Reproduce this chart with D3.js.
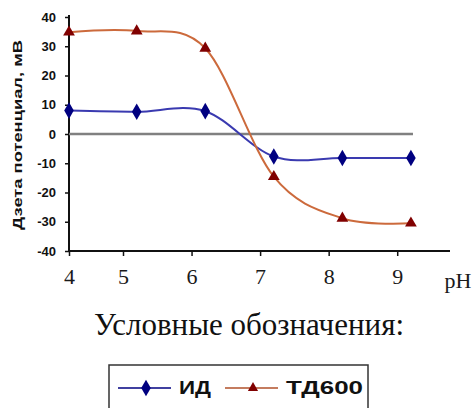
<!DOCTYPE html>
<html>
<head>
<meta charset="utf-8">
<script src="https://cdn.jsdelivr.net/npm/d3@7"></script>
<style>
	body { margin: 0; background: #fff; }
	svg { display: block; }
	.ytick text { font-family: Arial, "Liberation Sans", sans-serif; font-weight: bold; }
	.xtick text { font-family: "Times New Roman", "Liberation Serif", serif; }
</style>
</head>
<body>
<div id="graphique"></div>
<script>
"use strict";

// données
var phValeurs = [4, 5.2, 6.2, 7.2, 8.2, 9.2];
var serieID = [8, 7.6, 7.8, -7.7, -8.2, -8.2];
var serieTD600 = [34.8, 35.2, 29.3, -14.6, -28.8, -30.5];
var series = ["ИД", "ТД600"];
var ticksY = [40, 30, 20, 10, 0, -10, -20, -30, -40];
var ticksX = [4, 5, 6, 7, 8, 9];
var ligneZero = [4, 9.23];

var largeur = 474, hauteur = 408;

var svg = d3.select("#graphique").append("svg")
	.attr("width", largeur)
	.attr("height", hauteur);

// échelles (l'axe des pH est irrégulier entre 4 et 5, comme sur l'original)
var x = d3.scaleLinear().domain([4, 5, 9.77]).range([69, 123, 450]);
var y = d3.scaleLinear().domain([-40, 40]).range([251, 17]);

// axe Y
var axeY = svg.append("g")
	.attr("class", "ytick")
	.attr("transform", "translate(" + x(4) + ",0)")
	.call(d3.axisLeft(y).tickValues(ticksY).tickSize(4).tickPadding(9).tickFormat(String));
axeY.select(".domain").attr("d", "M0," + (y(40) - 2) + "V" + y(-40))
	.attr("stroke", "#111").attr("stroke-width", 2);
axeY.selectAll(".tick line").attr("stroke", "#111").attr("stroke-width", 1.5);
axeY.selectAll(".tick text").attr("font-size", 13).attr("fill", "#111");

// axe X
var axeX = svg.append("g")
	.attr("class", "xtick")
	.attr("transform", "translate(0," + y(-40) + ")")
	.call(d3.axisBottom(x).tickValues(ticksX).tickSize(5).tickPadding(12).tickFormat(String));
axeX.select(".domain").attr("d", "M" + x(4) + ",0H" + x(9.77))
	.attr("stroke", "#111").attr("stroke-width", 2);
axeX.selectAll(".tick line").attr("stroke", "#111").attr("stroke-width", 1.5);
axeX.selectAll(".tick text").attr("font-size", 22).attr("fill", "#1a1a1a");

svg.append("text")
	.attr("x", x(9.77) + 8)
	.attr("y", y(-40) + 37)
	.attr("text-anchor", "middle")
	.attr("font-family", "'Times New Roman', 'Liberation Serif', serif")
	.attr("font-size", 22)
	.attr("fill", "#1a1a1a")
	.text("pH");

// titre de l'axe Y
svg.append("text")
	.attr("transform", "translate(22," + 135 + ") rotate(-90)")
	.attr("text-anchor", "middle")
	.attr("font-family", "Arial, 'Liberation Sans', sans-serif")
	.attr("font-weight", "bold")
	.attr("font-size", 12)
	.attr("textLength", 190)
	.attr("lengthAdjust", "spacingAndGlyphs")
	.attr("fill", "#111")
	.text("Дзета потенциал, мВ");

// ligne du zéro
svg.append("line")
	.attr("x1", x(ligneZero[0]))
	.attr("x2", x(ligneZero[1]))
	.attr("y1", y(0))
	.attr("y2", y(0))
	.attr("stroke", "#808080")
	.attr("stroke-width", 2.5);

// courbes lissées
var courbe = d3.line()
	.x(function (d, i) { return x(phValeurs[i]); })
	.y(function (d) { return y(d); })
	.curve(d3.curveCardinal);

svg.append("path")
	.datum(serieID)
	.attr("d", courbe)
	.attr("fill", "none")
	.attr("stroke", "#3a3ab0")
	.attr("stroke-width", 2);

svg.append("path")
	.datum(serieTD600)
	.attr("d", courbe)
	.attr("fill", "none")
	.attr("stroke", "#cc6a3c")
	.attr("stroke-width", 2);

var losange = d3.symbol().type(d3.symbolDiamond).size(80);
var triangle = d3.symbol().type(d3.symbolTriangle).size(60);
var petitTriangle = d3.symbol().type(d3.symbolTriangle).size(45);

svg.append("g").selectAll("path")
	.data(serieID)
	.enter()
		.append("path")
		.attr("transform", function (d, i) { return "translate(" + x(phValeurs[i]) + "," + y(d) + ")"; })
		.attr("d", losange)
		.attr("fill", "#000080");

svg.append("g").selectAll("path")
	.data(serieTD600)
	.enter()
		.append("path")
		.attr("transform", function (d, i) { return "translate(" + x(phValeurs[i]) + "," + y(d) + ")"; })
		.attr("d", triangle)
		.attr("fill", "#800000");

// légende
svg.append("text")
	.attr("x", 249)
	.attr("y", 335)
	.attr("text-anchor", "middle")
	.attr("font-family", "'Times New Roman', 'Liberation Serif', serif")
	.attr("font-size", 31)
	.attr("fill", "#111")
	.text("Условные обозначения:");

var legende = svg.append("g").attr("transform", "translate(109,365)");

legende.append("rect")
	.attr("x", 0)
	.attr("y", 0)
	.attr("width", 259)
	.attr("height", 60)
	.attr("fill", "#fff")
	.attr("stroke", "#333")
	.attr("stroke-width", 1.5);

var entrees = [
	{ nom: series[0], couleur: "#000080", trait: "#000080", symbole: losange, x0: 9, largeurTexte: 32 },
	{ nom: series[1], couleur: "#800000", trait: "#b0502a", symbole: petitTriangle, x0: 116, largeurTexte: 77 }
];

entrees.forEach(function (e) {
	legende.append("line")
		.attr("x1", e.x0)
		.attr("x2", e.x0 + 53)
		.attr("y1", 23)
		.attr("y2", 23)
		.attr("stroke", e.trait)
		.attr("stroke-width", 1.5);
	legende.append("path")
		.attr("transform", "translate(" + (e.x0 + 28) + ",23)")
		.attr("d", e.symbole)
		.attr("fill", e.couleur);
	legende.append("text")
		.attr("x", e.x0 + 61)
		.attr("y", 29)
		.attr("font-family", "Arial, 'Liberation Sans', sans-serif")
		.attr("font-weight", "bold")
		.attr("font-size", 19)
		.attr("textLength", e.largeurTexte)
		.attr("lengthAdjust", "spacingAndGlyphs")
		.attr("fill", "#111")
		.text(e.nom);
});
</script>
</body>
</html>
